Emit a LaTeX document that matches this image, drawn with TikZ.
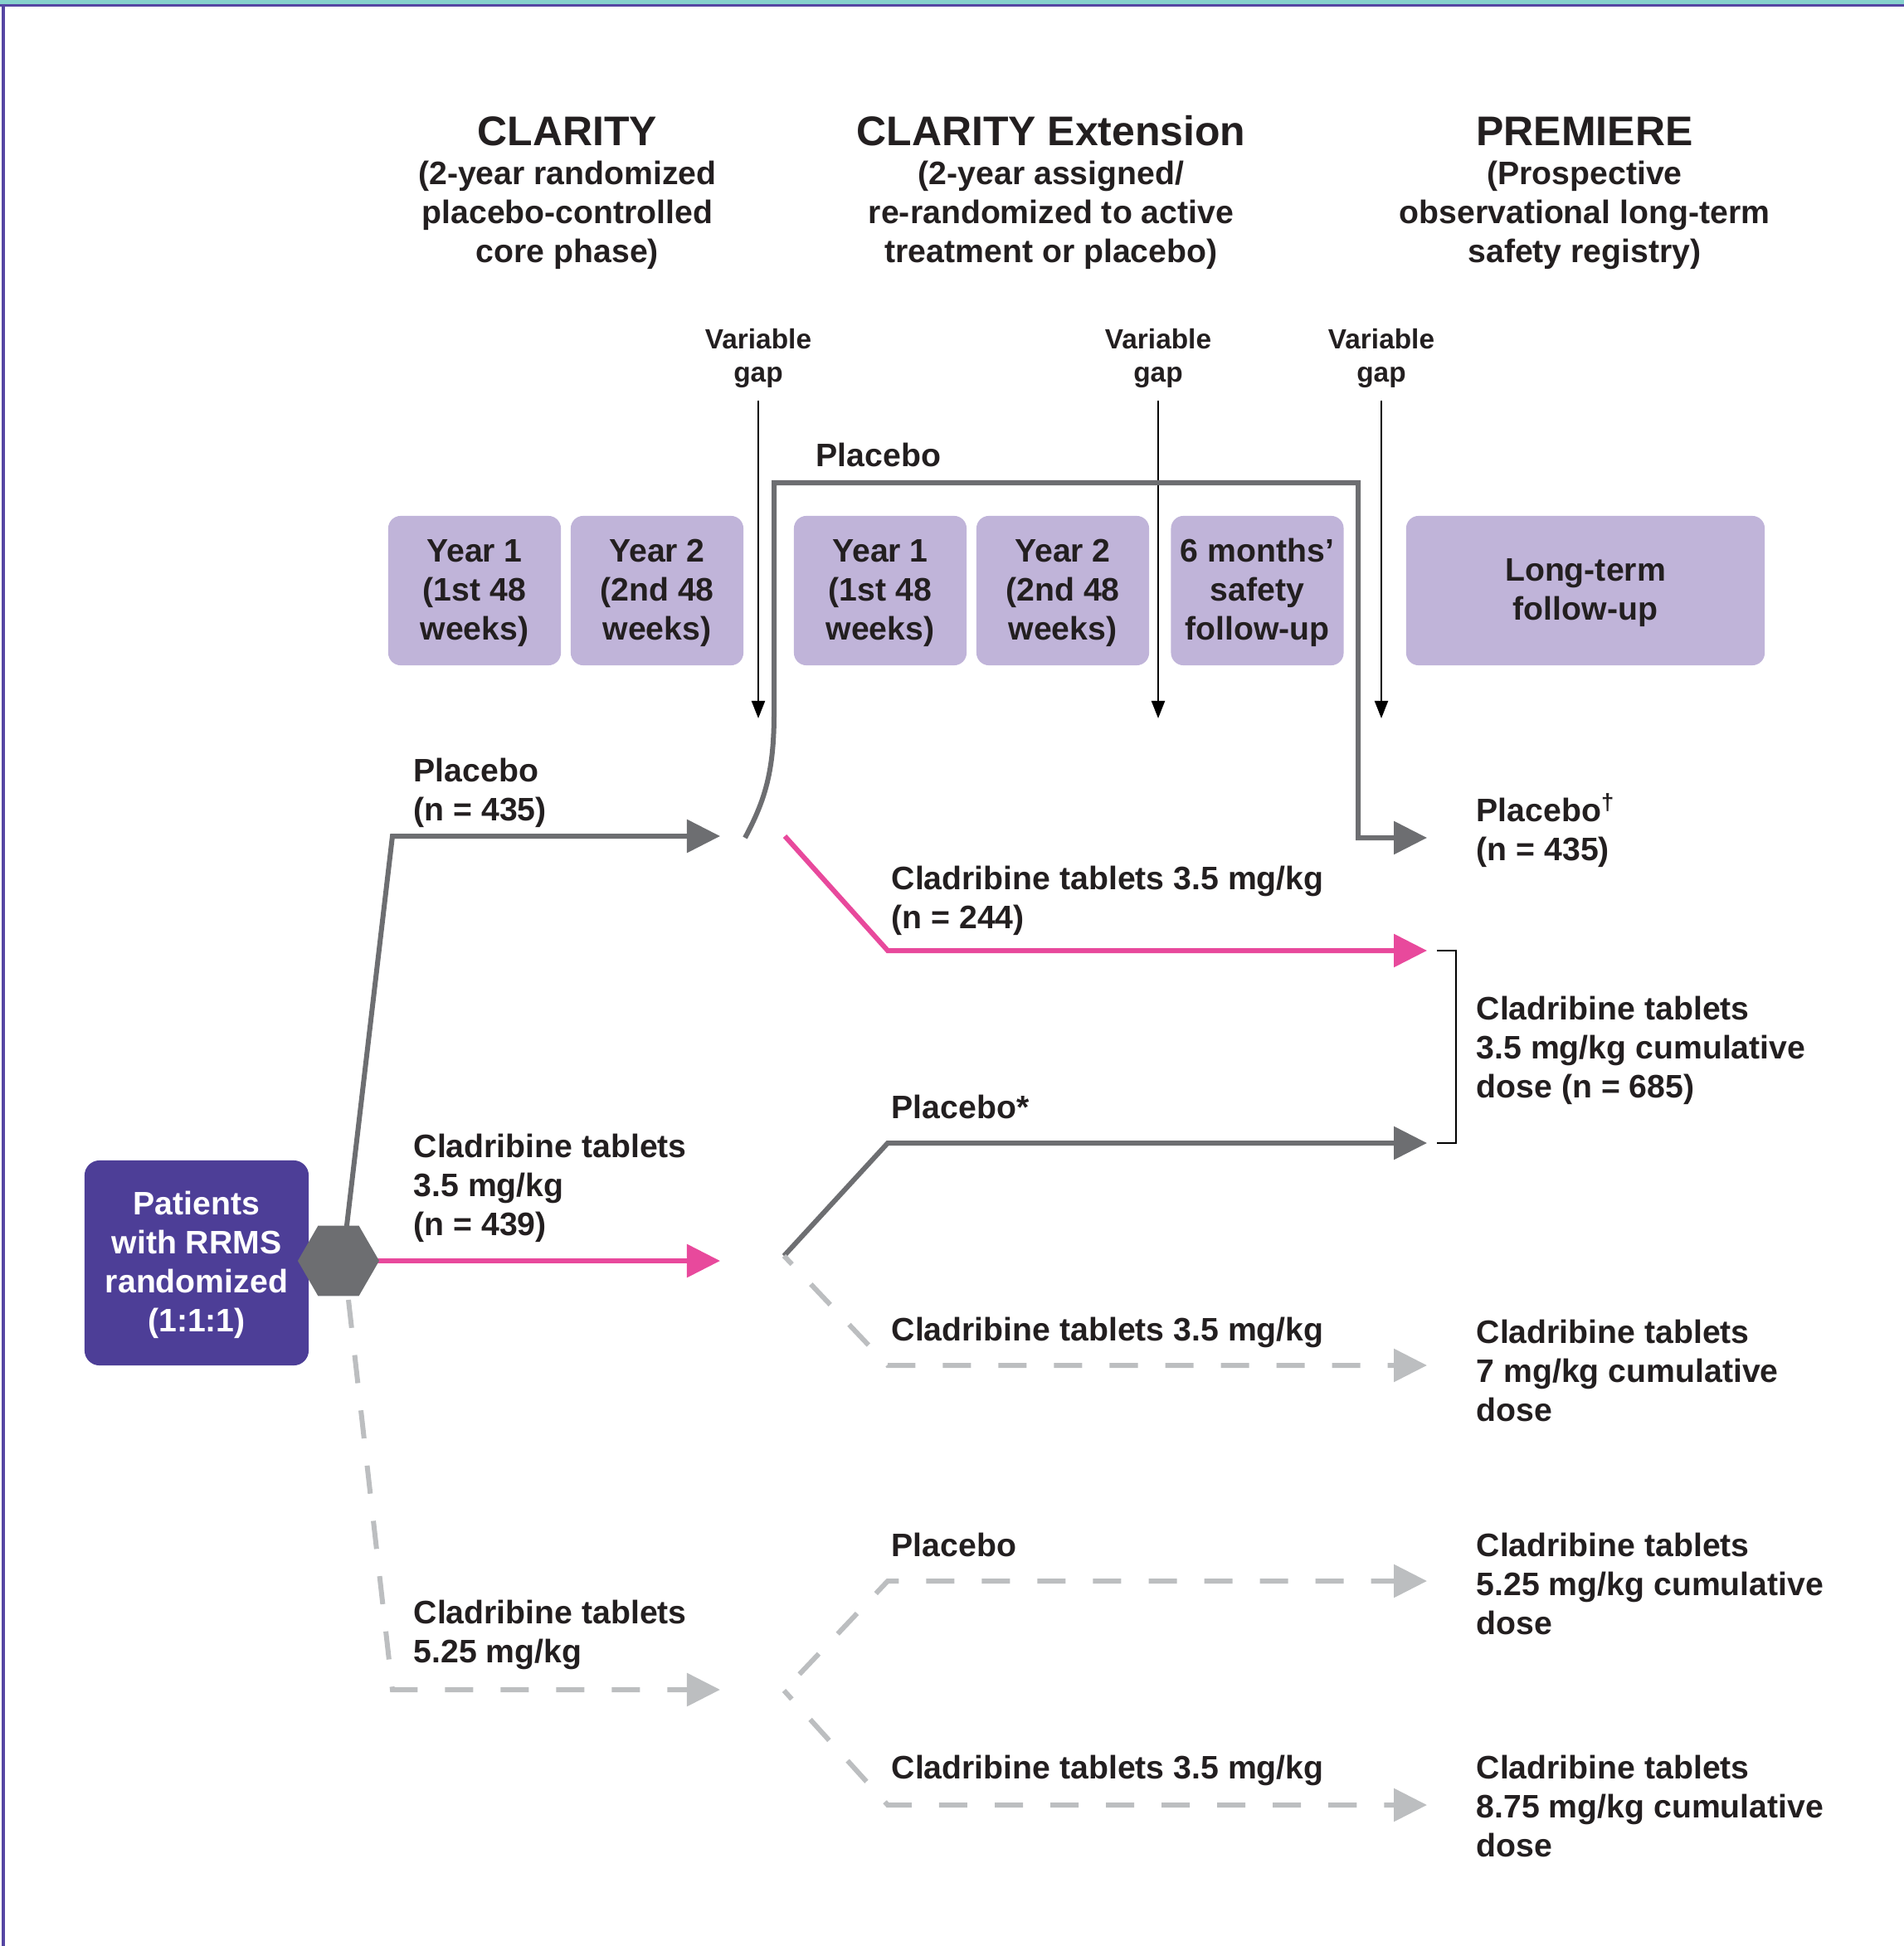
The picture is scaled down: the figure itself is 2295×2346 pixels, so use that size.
\documentclass[tikz,border=0pt]{standalone}
\usepackage{fontspec}
\setmainfont{Liberation Sans}
\usetikzlibrary{arrows.meta,shapes.geometric,calc}
\definecolor{dgray}{HTML}{6D6E71}
\definecolor{lgray}{HTML}{BCBEC0}
\definecolor{pinkline}{HTML}{E8499C}
\definecolor{lav}{HTML}{C0B4D9}
\definecolor{purpbox}{HTML}{4D3E97}
\definecolor{tealband}{HTML}{86D1CD}
\definecolor{bordp}{HTML}{5646A3}
\definecolor{txt}{HTML}{231F20}
\newcommand\bodyf{\fontsize{11.15pt}{13.4pt}\selectfont\bfseries}
\newcommand\titf{\fontsize{14.2pt}{17pt}\selectfont\bfseries}
\newcommand\smf{\fontsize{9.5pt}{11.3pt}\selectfont\bfseries}
\begin{document}
\begin{tikzpicture}[x=0.01cm,y=-0.01cm,
  lbl/.style={font=\bodyf, text=txt, align=left, inner sep=0pt, anchor=north west},
  hdr/.style={font=\bodyf, text=txt, align=center, inner sep=0pt, anchor=north},
  ttl/.style={font=\titf, text=txt, inner sep=0pt, anchor=base},
  gaplbl/.style={font=\smf, text=txt, align=center, inner sep=0pt, anchor=north},
  period/.style={fill=lav, rounded corners=0.15cm, minimum width=2.08cm, minimum height=1.8cm,
    font=\bodyf, text=txt, align=center, inner sep=0pt},
  bigtip/.style={-{Triangle[length=0.4cm,width=0.39cm]}},
  grayarrow/.style={line width=0.06cm, draw=dgray, bigtip},
  pinkarrow/.style={line width=0.06cm, draw=pinkline, bigtip},
  dasharrow/.style={line width=0.06cm, draw=lgray, dash pattern=on 0.34cm off 0.33cm, dash phase=0.2cm, bigtip},
  gaparrow/.style={line width=0.02cm, draw=black, -{Triangle[length=0.21cm,width=0.16cm]}},
  brk/.style={line width=0.02cm, draw=black}
]
\useasboundingbox (0,0) rectangle (2295,2346);
% frame
\fill[tealband] (0,0) rectangle (2295,5);
\draw[bordp, line width=0.03cm] (0,6.5) -- (2295,6.5);
\draw[bordp, line width=0.03cm] (4,5) -- (4,2346);

% headers
\node[ttl] (t1) at (684,176) {CLARITY};
\node[hdr] (s1) at (684,189) {\strut(2-year randomized\\placebo-controlled\\core phase)};
\node[ttl] (t2) at (1267,176) {CLARITY Extension};
\node[hdr] (s2) at (1267,189) {\strut(2-year assigned/\\re-randomized to active\\treatment or placebo)};
\node[ttl] (t3) at (1910,176) {PREMIERE};
\node[hdr] (s3) at (1910,189) {\strut(Prospective\\observational long-term\\safety registry)};

% variable gap arrows
\node[gaplbl] (vg1) at (914,392) {\strut Variable\\gap};
\node[gaplbl] (vg2) at (1396,392) {\strut Variable\\gap};
\node[gaplbl] (vg3) at (1665,392) {\strut Variable\\gap};
\coordinate (vg1e) at (914,866);
\coordinate (vg2e) at (1396,866);
\coordinate (vg3e) at (1665,866);
\draw[gaparrow] (vg1.south |- 0,483) -- (vg1e);
\draw[gaparrow] (vg2.south |- 0,483) -- (vg2e);
\draw[gaparrow] (vg3.south |- 0,483) -- (vg3e);

% period boxes
\node[period] (b1) at (572,712) {\strut Year 1\\(1st 48\\weeks)};
\node[period] (b2) at (792,712) {\strut Year 2\\(2nd 48\\weeks)};
\node[period] (b3) at (1061,712) {\strut Year 1\\(1st 48\\weeks)};
\node[period] (b4) at (1281,712) {\strut Year 2\\(2nd 48\\weeks)};
\node[period] (b5) at (1515.5,712) {\strut 6 months’\\safety\\follow-up};
\node[period, minimum width=4.32cm] (b6) at (1911,712) {\strut Long-term\\follow-up};

% patients box
\node[fill=purpbox, rounded corners=0.18cm, minimum width=2.7cm, minimum height=2.47cm,
  font=\bodyf, text=white, align=center, inner sep=0pt] (pat) at (237,1522.5)
  {\strut Patients\\with RRMS\\randomized\\(1:1:1)};

% hexagon position
\coordinate (hexc) at (408,1520);

% left branches
\coordinate (pTurn) at (473,1008);
\coordinate (pEnd) at (868,1008);
\coordinate (cEnd) at (868,1520);
\coordinate (dTurn) at (473,2037);
\coordinate (dEnd) at (868,2037);
\draw[grayarrow] ($(hexc)+(5,0)$) -- (pTurn) -- (pEnd);
\draw[pinkarrow] (hexc) -- (cEnd);
\draw[dasharrow, dash phase=0cm] ($(hexc)+(12,47)$) -- (dTurn) -- (dEnd);

\node[regular polygon, regular polygon sides=6, minimum size=0.98cm, inner sep=0pt, fill=dgray] (hex) at (hexc) {};

% placebo loop
\coordinate (jA) at (898,1010);
\coordinate (rPlac) at (1720,1010);
\draw[grayarrow] (jA) .. controls (922,965) and (933,930) .. (933,860) -- (933,582) -- (1637,582) -- (1637,1010) -- (rPlac);

% middle branches
\coordinate (jP) at (946,1008);
\coordinate (kP) at (1070,1146);
\coordinate (rP) at (1720,1146);
\draw[pinkarrow] (jP) -- (kP) -- (rP);

\coordinate (jB) at (945,1514);
\coordinate (kB1) at (1070,1378);
\coordinate (rB1) at (1720,1378);
\coordinate (kB2) at (1070,1646);
\coordinate (rB2) at (1720,1646);
\draw[grayarrow] (jB) -- (kB1) -- (rB1);
\draw[dasharrow] (jB) -- (kB2) -- (rB2);

\coordinate (jC) at (945,2038);
\coordinate (kC1) at (1070,1906);
\coordinate (rC1) at (1720,1906);
\coordinate (kC2) at (1070,2176);
\coordinate (rC2) at (1720,2176);
\draw[dasharrow, dash phase=0.4cm] (jC) -- (kC1) -- (rC1);
\draw[dasharrow] (jC) -- (kC2) -- (rC2);

% bracket
\coordinate (bk1) at (1732,1146);
\coordinate (bk2) at (1755,1146);
\coordinate (bk3) at (1755,1378);
\coordinate (bk4) at (1732,1378);
\draw[brk] (bk1) -- (bk2) -- (bk3) -- (bk4);

% labels
\node[lbl] (L1) at (498,909) {\strut Placebo\\(n = 435)};
\node[lbl] (L2) at (498,1362) {\strut Cladribine tablets\\3.5 mg/kg\\(n = 439)};
\node[lbl] (L3) at (498,1924) {\strut Cladribine tablets\\5.25 mg/kg};
\node[lbl] (LP) at (983,529) {\strut Placebo};
\node[lbl] (M1) at (1074,1039) {\strut Cladribine tablets 3.5 mg/kg\\(n = 244)};
\node[lbl] (M2) at (1074,1315) {\strut Placebo*};
\node[lbl] (M3) at (1074,1583) {\strut Cladribine tablets 3.5 mg/kg};
\node[lbl] (M4) at (1074,1843) {\strut Placebo};
\node[lbl] (M5) at (1074,2111) {\strut Cladribine tablets 3.5 mg/kg};
\node[lbl] (R1) at (1779,956) {\strut Placebo\textsuperscript{†}\\(n = 435)};
\node[lbl] (R2) at (1779,1196) {\strut Cladribine tablets\\3.5 mg/kg cumulative\\dose (n = 685)};
\node[lbl] (R3) at (1779,1586) {\strut Cladribine tablets\\7 mg/kg cumulative\\dose};
\node[lbl] (R4) at (1779,1843) {\strut Cladribine tablets\\5.25 mg/kg cumulative\\dose};
\node[lbl] (R5) at (1779,2111) {\strut Cladribine tablets\\8.75 mg/kg cumulative\\dose};
\end{tikzpicture}
\end{document}
